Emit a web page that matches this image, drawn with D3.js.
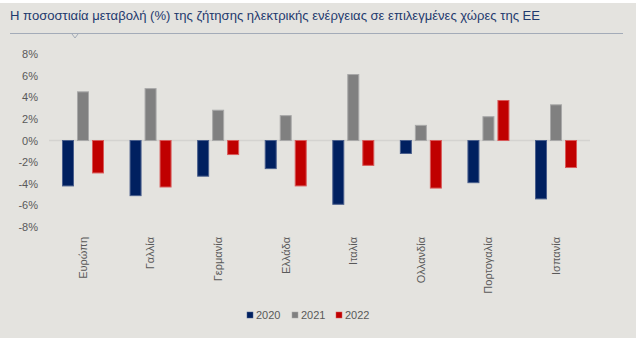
<!DOCTYPE html>
<html><head><meta charset="utf-8">
<script src="https://cdn.jsdelivr.net/npm/d3@7/dist/d3.min.js"></script>
<style>
html,body{margin:0;padding:0;background:#fff;}
svg{display:block;font-family:"Liberation Sans",Arial,sans-serif;}
</style></head>
<body>
<script>
const categories = ["Ευρώπη","Γαλλία","Γερμανία","Ελλάδα","Ιταλία","Ολλανδία","Πορτογαλία","Ισπανία"];
const years = ["2020","2021","2022"];
const values2020 = [-4.2,-5.1,-3.3,-2.6,-5.9,-1.2,-3.9,-5.4];
const values2021 = [4.5,4.8,2.8,2.3,6.1,1.4,2.2,3.3];
const values2022 = [-3.0,-4.3,-1.3,-4.2,-2.3,-4.4,3.7,-2.5];
const yTicks = [8,6,4,2,0,-2,-4,-6,-8];
const title = "Η ποσοστιαία μεταβολή (%) της ζήτησης ηλεκτρικής ενέργειας σε επιλεγμένες χώρες της ΕΕ";
const colors = ["#002060","#808080","#C00000"];
const strokes = ["#4a5f8c","#a8a8a8","#d85a5a"];

const W=640,H=338;
const svg=d3.select("body").append("svg").attr("width",W).attr("height",H);
svg.append("rect").attr("x",0).attr("y",3).attr("width",636).attr("height",H-3).attr("fill","#E4E3DF");

svg.append("text").attr("x",10).attr("y",20).attr("fill","#1F3A6E").attr("font-size",13)
  .attr("textLength",530).attr("lengthAdjust","spacingAndGlyphs").text(title);
svg.append("line").attr("x1",10).attr("x2",623).attr("y1",33.5).attr("y2",33.5).attr("stroke","#A3ABB8").attr("stroke-width",1);
svg.append("path").attr("d","M72,34 L75,38 L78,34").attr("fill","none").attr("stroke","#A3ABB8").attr("stroke-width",1);

const y=d3.scaleLinear().domain([-8,8]).range([227,54]);
const x0=d3.scaleBand().domain(categories).range([49.2,589.8]).padding(0);
const bw=x0.bandwidth();
const x1=d3.scaleBand().domain(years).range([bw/2-22.5,bw/2+22.5]).paddingInner(0.2).paddingOuter(0.1);

// y axis labels
const yAxis=d3.axisLeft(y).tickValues(yTicks).tickFormat(d=>d+"%").tickSize(0).tickPadding(0);
const ga=svg.append("g").attr("transform","translate(38,0)").call(yAxis);
ga.select(".domain").remove();
ga.selectAll("text").attr("fill","#595959").attr("font-size",11).attr("font-family","Liberation Sans, Arial, sans-serif");

// zero line
svg.append("line").attr("x1",49).attr("x2",590).attr("y1",y(0)).attr("y2",y(0)).attr("stroke","#D4D3D0").attr("stroke-width",1.5);

const series=[values2020,values2021,values2022];
const data=[];
categories.forEach((c,i)=>years.forEach((yr,j)=>data.push({c,yr,j,v:series[j][i]})));
svg.append("g").selectAll("rect").data(data).join("rect")
  .attr("x",d=>x0(d.c)+x1(d.yr)+0.5)
  .attr("width",x1.bandwidth()-1)
  .attr("y",d=>Math.min(y(d.v),y(0)))
  .attr("height",d=>Math.abs(y(d.v)-y(0)))
  .attr("fill",d=>colors[d.j])
  .attr("stroke",d=>strokes[d.j]).attr("stroke-width",1);

// category labels
const xAxis=d3.axisBottom(x0).tickSize(0).tickPadding(0);
const gx=svg.append("g").attr("transform","translate(0,237)").call(xAxis);
gx.select(".domain").remove();
gx.selectAll("text").attr("fill","#595959").attr("font-size",11).attr("font-family","Liberation Sans, Arial, sans-serif")
  .attr("transform","rotate(-90)").attr("text-anchor","end").attr("dy","0.35em").attr("x",0).attr("y",0);

// legend
const lx=[247,292,336];
const lg=svg.append("g");
years.forEach((yr,j)=>{
  lg.append("rect").attr("x",lx[j]).attr("y",312).attr("width",6).attr("height",6).attr("fill",colors[j]).attr("stroke",strokes[j]).attr("stroke-width",0.5);
  lg.append("text").attr("x",lx[j]+9).attr("y",319).attr("fill","#595959").attr("font-size",11).text(yr);
});
</script>
</body></html>
